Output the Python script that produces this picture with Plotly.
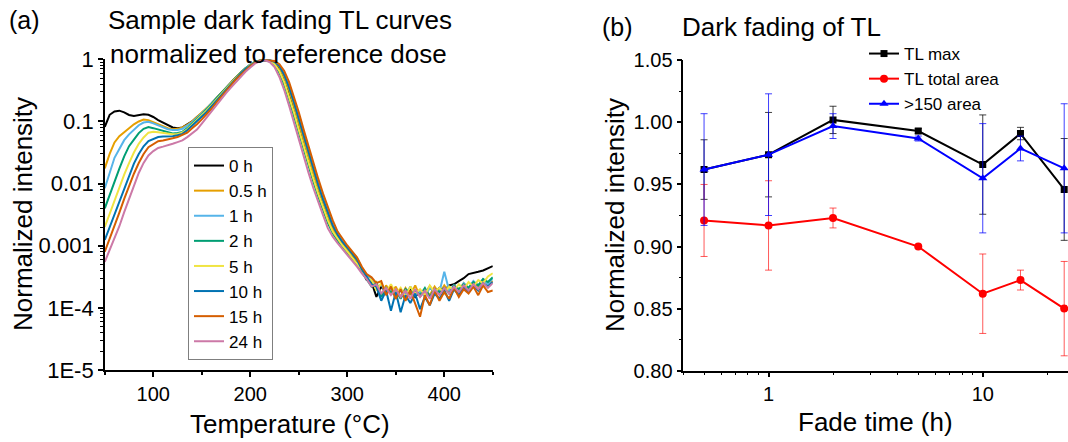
import plotly.graph_objects as go

# ---------------- Panel (a): TL curves ----------------
TEMP_C = [50, 55, 60, 65, 70, 75, 80, 85, 90, 95, 100, 105, 110, 115, 120, 125, 130,
          135, 140, 145, 150, 155, 160, 165, 170, 175, 180, 185, 190, 195, 200, 205, 210,
          215, 220, 225, 230, 235, 240, 245, 250, 255, 260, 265, 270, 275, 280, 285, 290,
          295, 300, 305, 310,
          315, 320, 325, 330, 335, 340, 345, 350, 355, 360, 365, 370, 375, 380, 385, 390,
          395, 400, 405, 410, 415, 420, 425, 430, 435, 440, 445, 450]

CURVE_NAMES = ["0 h", "0.5 h", "1 h", "2 h", "5 h", "10 h", "15 h", "24 h"]

TL_0H = [0.082, 0.128, 0.145, 0.149, 0.14, 0.127, 0.122, 0.126, 0.13, 0.128, 0.118, 0.105, 0.095, 0.086, 0.08, 0.078, 0.08,
         0.09, 0.10, 0.118, 0.135, 0.16, 0.195, 0.235, 0.285, 0.345, 0.42, 0.51, 0.61, 0.72, 0.82, 0.91, 0.96,
         0.958, 0.953, 0.867, 0.697, 0.472, 0.285, 0.158, 0.084, 0.0443, 0.024, 0.0135, 0.00766, 0.00455, 0.0028, 0.0018, 0.00134,
         0.00105, 0.00085, 0.00068, 0.00055,
         3.9e-4, 2.8e-4, 2.6e-4, 1.5e-4, 2.2e-4, 1.8e-4, 2.2e-4, 1.6e-4, 1.9e-4, 1.6e-4, 2.0e-4, 1.5e-4, 1.9e-4, 1.7e-4,
         2.2e-4, 1.7e-4, 2.1e-4, 1.9e-4, 2.3e-4, 2.4e-4, 2.7e-4, 3.0e-4, 3.5e-4, 3.7e-4, 3.8e-4, 4.0e-4, 4.3e-4, 4.7e-4]

TL_05H = [0.0176, 0.03, 0.046, 0.058, 0.067, 0.078, 0.09, 0.1, 0.107, 0.105, 0.098, 0.091, 0.084, 0.078, 0.075, 0.076, 0.08,
          0.088, 0.1, 0.118, 0.135, 0.16, 0.195, 0.235, 0.285, 0.345, 0.42, 0.51, 0.61, 0.72, 0.82, 0.91, 0.96,
          0.96, 0.966, 0.90, 0.75, 0.52, 0.32, 0.18, 0.095, 0.05, 0.027, 0.015, 0.0085, 0.005, 0.0031, 0.0019, 0.0014,
          0.0011, 0.00089, 0.00071, 0.00058,
          4.0e-4, 3.2e-4, 2.3e-4, 2.6e-4, 1.6e-4, 2.3e-4, 1.7e-4, 2.2e-4, 1.5e-4, 2.1e-4, 1.6e-4, 2.3e-4, 1.5e-4, 2.0e-4,
          1.6e-4, 2.2e-4, 1.7e-4, 2.3e-4, 1.8e-4, 2.2e-4, 1.9e-4, 2.5e-4, 2.0e-4, 2.6e-4, 2.2e-4, 2.8e-4, 2.4e-4, 2.7e-4]

TL_1H = [0.0084, 0.015, 0.026, 0.036, 0.05, 0.062, 0.074, 0.087, 0.096, 0.099, 0.093, 0.086, 0.08, 0.075, 0.073, 0.073, 0.076,
         0.085, 0.097, 0.114, 0.133, 0.16, 0.195, 0.235, 0.285, 0.345, 0.42, 0.51, 0.61, 0.72, 0.82, 0.91, 0.955,
         0.96, 0.965, 0.925, 0.807, 0.603, 0.388, 0.226, 0.123, 0.0649, 0.0345, 0.019, 0.0107, 0.0062, 0.00375, 0.00231, 0.00159,
         0.00121, 0.00097, 0.00078, 0.00063,
         4.4e-4, 3.3e-4, 3.0e-4, 2.0e-4, 2.4e-4, 1.7e-4, 2.1e-4, 1.4e-4, 2.0e-4, 1.6e-4, 2.2e-4, 1.6e-4, 1.9e-4, 1.5e-4,
         2.1e-4, 1.8e-4, 1.8e-4, 3.8e-4, 1.9e-4, 2.3e-4, 1.8e-4, 2.5e-4, 2.1e-4, 2.7e-4, 2.3e-4, 2.9e-4, 2.4e-4, 3.0e-4]

TL_2H = [0.004, 0.0066, 0.011, 0.0174, 0.0275, 0.04, 0.051, 0.065, 0.076, 0.081, 0.078, 0.074, 0.07, 0.066, 0.064, 0.065, 0.068,
         0.078, 0.094, 0.11, 0.13, 0.155, 0.19, 0.235, 0.285, 0.345, 0.42, 0.51, 0.61, 0.72, 0.82, 0.91, 0.955,
         0.962, 0.925, 0.807, 0.603, 0.388, 0.226, 0.123, 0.0649, 0.0345, 0.019, 0.0107, 0.0062, 0.00375, 0.00231, 0.00159, 0.00121,
         0.00097, 0.00078, 0.00063, 0.0005,
         3.8e-4, 2.9e-4, 2.2e-4, 2.5e-4, 1.5e-4, 2.1e-4, 1.8e-4, 1.9e-4, 1.4e-4, 2.0e-4, 1.7e-4, 1.9e-4, 1.6e-4, 2.1e-4,
         1.5e-4, 2.0e-4, 1.8e-4, 2.1e-4, 1.7e-4, 2.3e-4, 2.0e-4, 2.4e-4, 2.1e-4, 2.6e-4, 2.3e-4, 2.9e-4, 2.6e-4, 3.1e-4]

TL_5H = [0.002, 0.0033, 0.0055, 0.0088, 0.0139, 0.0214, 0.0316, 0.0436, 0.0553, 0.066, 0.068, 0.067, 0.065, 0.063, 0.062, 0.063, 0.066,
         0.075, 0.089, 0.105, 0.124, 0.15, 0.183, 0.225, 0.275, 0.335, 0.41, 0.5, 0.6, 0.71, 0.81, 0.9, 0.955,
         0.959, 0.94, 0.836, 0.647, 0.428, 0.254, 0.14, 0.0738, 0.0391, 0.0214, 0.012, 0.00689, 0.00413, 0.00255, 0.00169, 0.00128,
         0.00101, 0.00081, 0.00065, 0.00052,
         4.1e-4, 3.0e-4, 2.8e-4, 1.9e-4, 2.5e-4, 1.8e-4, 2.4e-4, 1.7e-4, 2.1e-4, 1.5e-4, 2.2e-4, 1.7e-4, 2.0e-4, 1.6e-4,
         2.3e-4, 1.8e-4, 2.1e-4, 1.7e-4, 2.2e-4, 1.9e-4, 2.4e-4, 2.0e-4, 2.6e-4, 2.2e-4, 2.8e-4, 2.5e-4, 3.2e-4, 3.6e-4]

TL_10H = [0.00124, 0.002, 0.0032, 0.0052, 0.0087, 0.014, 0.021, 0.03, 0.0398, 0.0485, 0.0525, 0.056, 0.057, 0.057, 0.058, 0.06, 0.063,
          0.072, 0.085, 0.1, 0.118, 0.142, 0.175, 0.215, 0.265, 0.325, 0.4, 0.49, 0.59, 0.7, 0.8, 0.9, 0.95,
          0.955, 0.964, 0.912, 0.778, 0.56, 0.352, 0.202, 0.108, 0.057, 0.0305, 0.017, 0.00955, 0.00557, 0.0034, 0.0021, 0.0015,
          0.00115, 0.00093, 0.00074, 0.0006,
          4.2e-4, 3.1e-4, 2.4e-4, 2.2e-4, 1.3e-4, 1.9e-4, 0.9e-4, 1.8e-4, 0.85e-4, 1.6e-4, 1.2e-4, 1.7e-4, 0.95e-4, 1.5e-4,
          1.1e-4, 1.7e-4, 1.4e-4, 1.9e-4, 1.3e-4, 2.0e-4, 1.6e-4, 2.2e-4, 1.8e-4, 2.3e-4, 1.9e-4, 2.5e-4, 2.2e-4, 2.6e-4]

TL_15H = [0.0008, 0.00128, 0.00204, 0.0034, 0.00566, 0.0091, 0.0144, 0.0214, 0.030, 0.0385, 0.0435, 0.048, 0.0495, 0.051, 0.0535, 0.056, 0.06,
          0.066, 0.078, 0.09, 0.108, 0.13, 0.16, 0.2, 0.25, 0.31, 0.38, 0.47, 0.56, 0.67, 0.78, 0.88, 0.95,
          0.975, 0.97, 0.94, 0.836, 0.647, 0.428, 0.254, 0.14, 0.0738, 0.0391, 0.0214, 0.012, 0.00689, 0.00413, 0.00255, 0.00169,
          0.00128, 0.00101, 0.00081, 0.00065,
          4.6e-4, 3.5e-4, 3.1e-4, 2.5e-4, 2.7e-4, 1.6e-4, 2.2e-4, 1.4e-4, 2.0e-4, 1.3e-4, 1.9e-4, 1.2e-4, 0.72e-4, 1.6e-4,
          1.1e-4, 1.9e-4, 1.3e-4, 1.8e-4, 1.4e-4, 2.1e-4, 1.5e-4, 2.0e-4, 1.7e-4, 2.2e-4, 1.6e-4, 2.3e-4, 1.8e-4, 1.9e-4]

TL_24H = [0.00055, 0.00084, 0.00129, 0.00206, 0.00347, 0.00578, 0.0096, 0.0148, 0.0215, 0.0284, 0.0333, 0.0375, 0.0393, 0.041, 0.0437, 0.0464, 0.0495,
          0.056, 0.0638, 0.074, 0.092, 0.116, 0.145, 0.18, 0.225, 0.285, 0.35, 0.43, 0.52, 0.63, 0.74, 0.86, 0.93,
          0.966, 0.90, 0.75, 0.52, 0.32, 0.18, 0.095, 0.05, 0.027, 0.015, 0.0085, 0.005, 0.0031, 0.0019, 0.0014, 0.0011,
          0.00089, 0.00071, 0.00058, 0.00046,
          3.6e-4, 2.9e-4, 2.2e-4, 2.4e-4, 1.7e-4, 2.1e-4, 1.6e-4, 2.0e-4, 1.5e-4, 1.9e-4, 1.4e-4, 2.0e-4, 1.5e-4, 1.9e-4,
          1.4e-4, 2.0e-4, 1.6e-4, 2.1e-4, 1.7e-4, 2.2e-4, 1.8e-4, 2.3e-4, 1.9e-4, 2.4e-4, 2.0e-4, 2.5e-4, 2.1e-4, 2.5e-4]

CURVE_COLORS = ["#000000", "#E69F00", "#56B4E9", "#009E73", "#F0E442", "#0072B2", "#D55E00", "#CC79A7"]

Y_TICK_VALS_A = [1e-5, 1e-4, 1e-3, 1e-2, 1e-1, 1]
Y_TICK_TEXT_A = ["1E-5", "1E-4", "0.001", "0.01", "0.1", "1"]
X_TICK_VALS_A = [100, 200, 300, 400]

# ---------------- Panel (b): dark fading ----------------
FADE_H = [0.5, 1, 2, 5, 10, 15, 24]
TL_MAX = [0.962, 0.974, 1.002, 0.993, 0.966, 0.991, 0.946]
TL_MAX_ERR = [0.024, 0.034, 0.011, 0.002, 0.040, 0.005, 0.041]
TL_AREA = [0.921, 0.917, 0.923, 0.900, 0.862, 0.873, 0.850]
TL_AREA_ERR = [0.029, 0.036, 0.008, 0.001, 0.032, 0.008, 0.038]
AREA_150 = [0.962, 0.974, 0.997, 0.987, 0.955, 0.979, 0.963]
AREA_150_ERR = [0.045, 0.049, 0.010, 0.002, 0.044, 0.010, 0.052]

FONT = "Liberation Sans, Arial, sans-serif"
W, H = 1068, 442

fig = go.Figure()

curves = [TL_0H, TL_05H, TL_1H, TL_2H, TL_5H, TL_10H, TL_15H, TL_24H]
for name, ys, col in zip(CURVE_NAMES, curves, CURVE_COLORS):
    fig.add_trace(go.Scatter(x=TEMP_C, y=ys, mode="lines", name=name,
                             line=dict(color=col, width=2),
                             xaxis="x", yaxis="y", legend="legend"))

fig.add_trace(go.Scatter(x=FADE_H, y=TL_MAX, mode="lines+markers", name="TL max",
                         line=dict(color="black", width=2),
                         marker=dict(symbol="square", size=7, color="black"),
                         error_y=dict(type="data", array=TL_MAX_ERR, color="rgba(0,0,0,0.75)", thickness=1, width=3.5),
                         xaxis="x2", yaxis="y2", legend="legend2"))
fig.add_trace(go.Scatter(x=FADE_H, y=TL_AREA, mode="lines+markers", name="TL total area",
                         line=dict(color="#FF0000", width=2),
                         marker=dict(symbol="circle", size=8, color="#FF0000"),
                         error_y=dict(type="data", array=TL_AREA_ERR, color="rgba(255,0,0,0.65)", thickness=1, width=3.5),
                         xaxis="x2", yaxis="y2", legend="legend2"))
fig.add_trace(go.Scatter(x=FADE_H, y=AREA_150, mode="lines+markers", name=">150 area",
                         line=dict(color="#0000FF", width=2),
                         marker=dict(symbol="triangle-up", size=8, color="#0000FF"),
                         error_y=dict(type="data", array=AREA_150_ERR, color="rgba(0,0,255,0.75)", thickness=1, width=3.5),
                         xaxis="x2", yaxis="y2", legend="legend2"))

axis_common = dict(showline=True, linecolor="black", linewidth=1.5, showgrid=False, zeroline=False,
                   ticks="outside", ticklen=5, tickwidth=1.5, tickcolor="black", mirror=False,
                   automargin=False)

LOG_MINOR_A = [m * 10.0 ** e for e in range(-5, 0) for m in range(2, 10)]
LOG_MINOR_B = [0.4, 0.5, 0.6, 0.7, 0.8, 0.9, 2, 3, 4, 5, 6, 7, 8, 9, 20]


def px_x(p):
    return p / W


def px_y(p):
    return 1 - p / H


fig.update_layout(
    template="none",
    width=W, height=H, autosize=False,
    margin=dict(l=0, r=0, t=0, b=0, pad=0, autoexpand=False),
    paper_bgcolor="white", plot_bgcolor="white",
    font=dict(family=FONT, color="black"),
    xaxis=dict(domain=[px_x(104.8), px_x(492.8)], range=[50, 450], anchor="y",
               tickvals=X_TICK_VALS_A, tickfont=dict(size=20),
               minor=dict(tickvals=[50, 150, 250, 350, 450], ticks="outside", ticklen=3, tickwidth=1.5, tickcolor="black"),
               **axis_common),
    yaxis=dict(domain=[px_y(370), px_y(59.3)], type="log", range=[-5, 0], anchor="x",
               tickvals=Y_TICK_VALS_A, ticktext=Y_TICK_TEXT_A, tickfont=dict(size=22),
               minor=dict(tickvals=LOG_MINOR_A, ticks="outside", ticklen=3, tickwidth=1, tickcolor="black"),
               **axis_common),
    xaxis2=dict(domain=[px_x(683.3), 1.0], type="log", range=[-0.39794, 1.39794], anchor="y2",
                tickvals=[1, 10], ticktext=["1", "10"], tickfont=dict(size=20),
                minor=dict(tickvals=LOG_MINOR_B, ticks="outside", ticklen=3, tickwidth=1, tickcolor="black"),
                **axis_common),
    yaxis2=dict(domain=[px_y(370.7), px_y(60.3)], range=[0.80, 1.05], anchor="x2",
                tickvals=[0.80, 0.85, 0.90, 0.95, 1.00, 1.05], tickformat=".2f", tickfont=dict(size=20),
                minor=dict(dtick=0.025, ticks="outside", ticklen=3, tickwidth=1, tickcolor="black"),
                **axis_common),
    legend=dict(x=px_x(188), y=px_y(147), xanchor="left", yanchor="top",
                bordercolor="#7f7f7f", borderwidth=1, bgcolor="white",
                font=dict(size=17, family=FONT), tracegroupgap=0),
    legend2=dict(x=px_x(864), y=px_y(36), xanchor="left", yanchor="top",
                 borderwidth=0, bgcolor="rgba(0,0,0,0)",
                 font=dict(size=17, family=FONT)),
    showlegend=True,
)

annotations = [
    dict(text="(a)", x=px_x(7), y=px_y(20), xanchor="left", yanchor="middle", font=dict(size=25)),
    dict(text="Sample dark fading TL curves", x=px_x(280), y=px_y(20), xanchor="center", yanchor="middle", font=dict(size=26)),
    dict(text="normalized to reference dose", x=px_x(278), y=px_y(54), xanchor="center", yanchor="middle", font=dict(size=26)),
    dict(text="(b)", x=px_x(600), y=px_y(27), xanchor="left", yanchor="middle", font=dict(size=25)),
    dict(text="Dark fading of TL", x=px_x(680), y=px_y(27), xanchor="left", yanchor="middle", font=dict(size=26)),
    dict(text="Normalized intensity", x=px_x(23), y=px_y(214), xanchor="center", yanchor="middle", textangle=-90, font=dict(size=26)),
    dict(text="Normalized intensity", x=px_x(615), y=px_y(215), xanchor="center", yanchor="middle", textangle=-90, font=dict(size=26)),
    dict(text="Temperature (°C)", x=px_x(289.5), y=px_y(424), xanchor="center", yanchor="middle", font=dict(size=26)),
    dict(text="Fade time (h)", x=px_x(875.5), y=px_y(422), xanchor="center", yanchor="middle", font=dict(size=26)),
]
for a in annotations:
    a.update(xref="paper", yref="paper", showarrow=False)
fig.update_layout(annotations=annotations)

fig.write_html("out.html")
